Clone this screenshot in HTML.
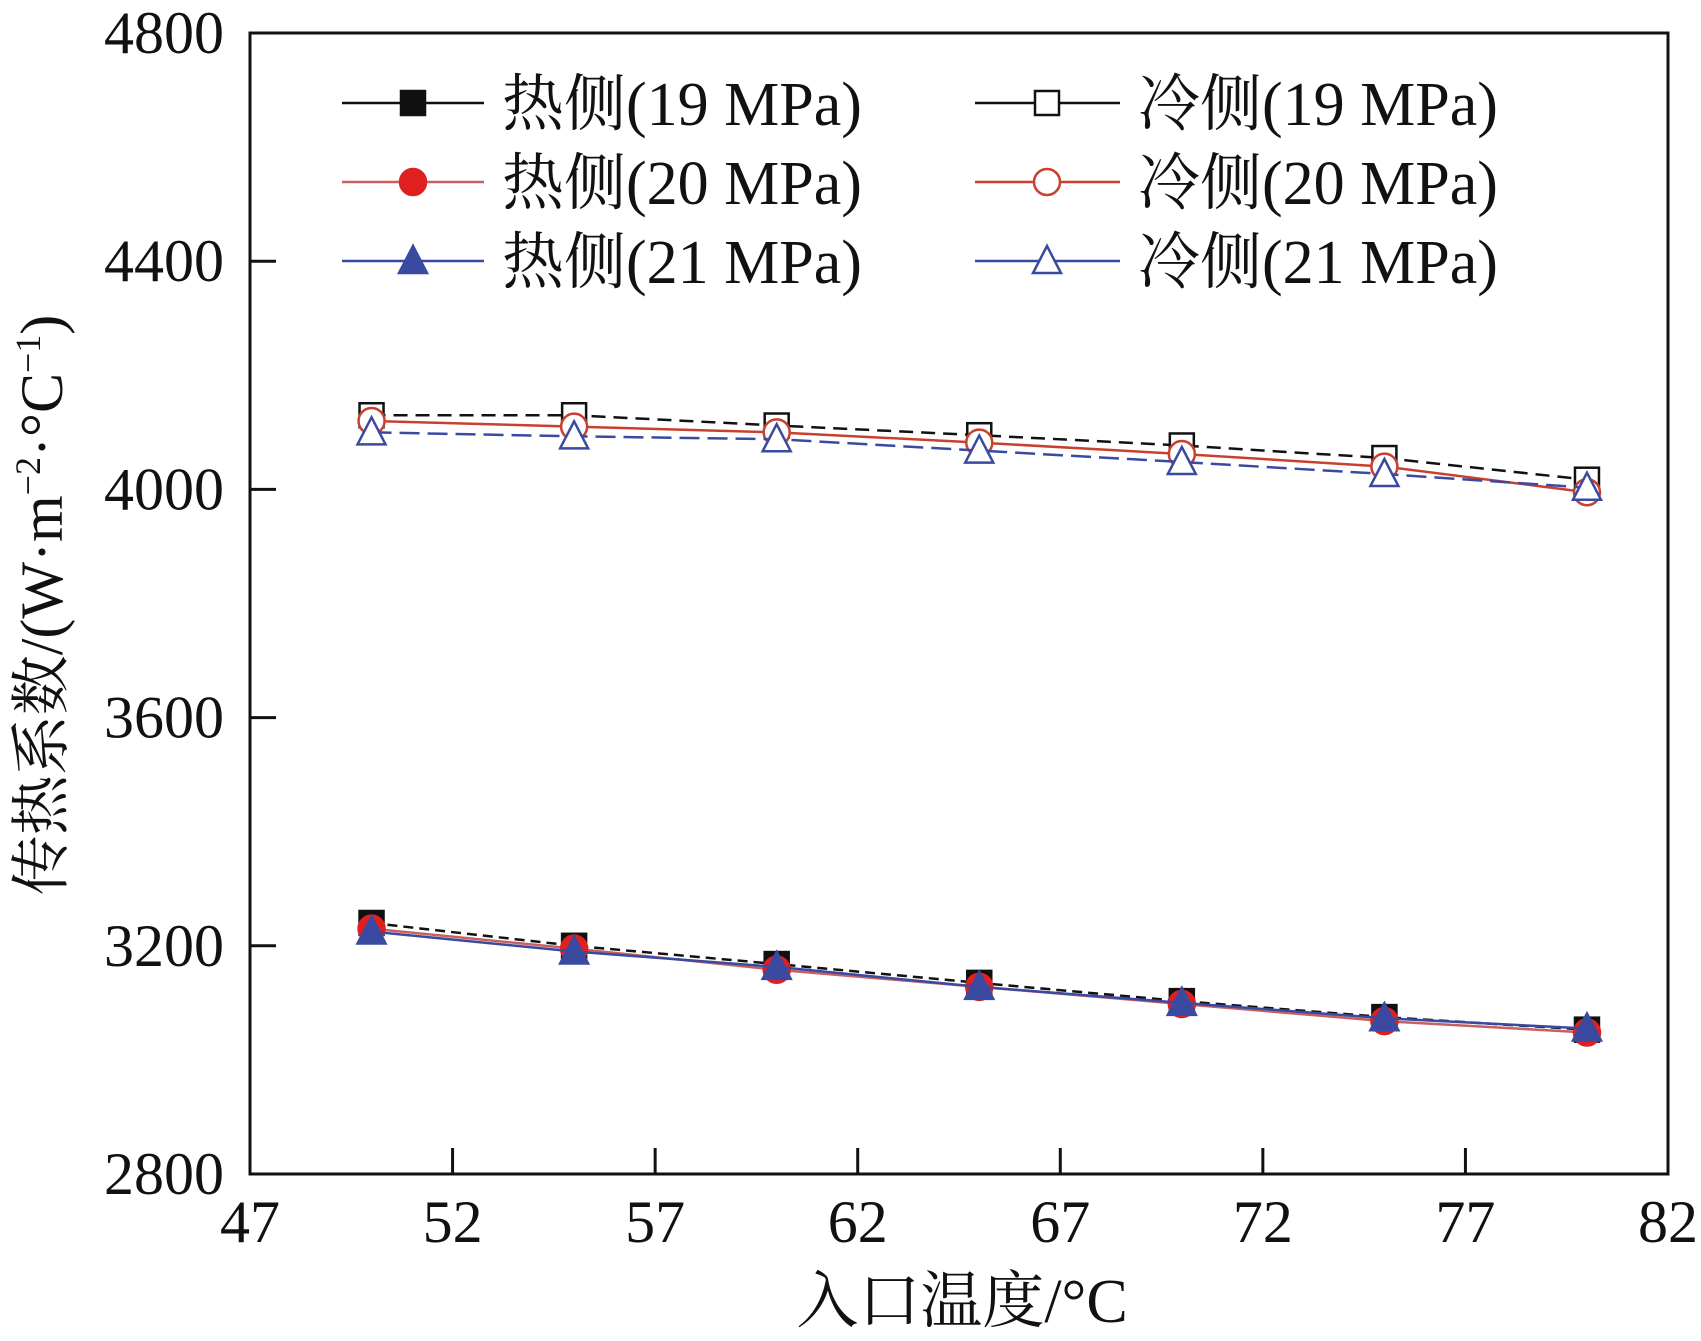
<!DOCTYPE html>
<html><head><meta charset="utf-8"><style>
html,body{margin:0;padding:0;background:#fff}
svg{display:block}
text{font-family:"Liberation Serif","Noto Serif CJK SC",serif;fill:#111}
</style></head><body>
<svg id="chart" width="1701" height="1341" viewBox="0 0 1701 1341" xmlns="http://www.w3.org/2000/svg">
<g id="plot"></g>
</svg>
<script>
const xValues=[50,55,60,65,70,75,80];
const hot19=[3240,3200,3168,3135,3103,3075,3053];
const hot20=[3230,3195,3158,3128,3098,3068,3048];
const hot21=[3225,3190,3163,3128,3100,3073,3055];
const cold19=[4130,4130,4112,4095,4077,4055,4017];
const cold20=[4120,4110,4100,4082,4062,4040,3995];
const cold21=[4100,4093,4088,4068,4048,4027,4003];
const xTicks=[47,52,57,62,67,72,77,82];
const yTicks=[2800,3200,3600,4000,4400,4800];
const L=250,R=1668,T=33,B=1174;
const sx=v=>L+(v-47)/(82-47)*(R-L);
const sy=v=>B-(v-2800)/(4800-2800)*(B-T);
const NS="http://www.w3.org/2000/svg";
const g=document.getElementById('plot');
function mk(tag,at,parent){const e=document.createElementNS(NS,tag);for(const k in at)e.setAttribute(k,at[k]);(parent||g).appendChild(e);return e;}
const frame=mk('rect',{x:L,y:T,width:R-L,height:B-T,fill:'none',stroke:'#111','stroke-width':3});


xTicks.forEach(v=>{
 const t=mk('line',{x1:sx(v),x2:sx(v),y1:B,y2:B-26,stroke:'#111','stroke-width':3});
 
 
 const l=mk('text',{x:sx(v),y:B+68,'text-anchor':'middle','font-size':60});
 l.textContent=v;
 
 
});
yTicks.forEach(v=>{
 const t=mk('line',{x1:L,x2:L+26,y1:sy(v),y2:sy(v),stroke:'#111','stroke-width':3});
 
 
 const l=mk('text',{x:L-26,y:sy(v)+20,'text-anchor':'end','font-size':60});
 l.textContent=v;
 
 
});
const xt=mk('text',{x:962,y:1322,'text-anchor':'middle','font-size':62});
xt.textContent='入口温度/°C';


const yt=mk('text',{x:0,y:0,'text-anchor':'middle','font-size':60,transform:'translate(62,605) rotate(-90)'});
yt.innerHTML='传热系数/(W·m<tspan font-size="36" dy="-22">−2</tspan><tspan dy="22">·°C</tspan><tspan font-size="36" dy="-22">−1</tspan><tspan dy="22">)</tspan>';


function marker(type,fill,stroke,x,y,parent,s){
 s=s||12;let e;
 if(type==='sq')e=mk('rect',{x:x-s,y:y-s,width:2*s,height:2*s,fill:fill,stroke:stroke,'stroke-width':2.5},parent);
 else if(type==='ci')e=mk('circle',{cx:x,cy:y,r:s+1,fill:fill,stroke:stroke,'stroke-width':2.5},parent);
 else e=mk('polygon',{points:`${x},${y-s-3} ${x-s-2},${y+s} ${x+s+2},${y+s}`,fill:fill,stroke:stroke,'stroke-width':2.5},parent);
 return e;
}
const series=[
 {name:'热侧(19 MPa)',d:hot19,m:'sq',fill:'#111',stroke:'#111',line:'#111',dash:'10,6',id:'hot-19'},
 {name:'热侧(20 MPa)',d:hot20,m:'ci',fill:'#e02020',stroke:'#e02020',line:'#c86060',dash:'',id:'hot-20'},
 {name:'热侧(21 MPa)',d:hot21,m:'tr',fill:'#3a4aa0',stroke:'#3a4aa0',line:'#3a4aa0',dash:'',id:'hot-21'},
 {name:'冷侧(19 MPa)',d:cold19,m:'sq',fill:'#fff',stroke:'#111',line:'#111',dash:'14,8',id:'cold-19'},
 {name:'冷侧(20 MPa)',d:cold20,m:'ci',fill:'#fff',stroke:'#c84030',line:'#c84030',dash:'',id:'cold-20'},
 {name:'冷侧(21 MPa)',d:cold21,m:'tr',fill:'#fff',stroke:'#3a4aa0',line:'#3a4aa0',dash:'20,8',id:'cold-21'}
];
series.forEach((s,i)=>{
 const sg=mk('g',{});
 
 
 const pts=s.d.map((v,j)=>sx(xValues[j])+','+sy(v)).join(' ');
 const pl=mk('polyline',{points:pts,fill:'none',stroke:s.line,'stroke-width':2.5,'stroke-dasharray':s.dash},sg);
 
 
 s.d.forEach((v,j)=>{
  const m=marker(s.m,s.fill,s.stroke,sx(xValues[j]),sy(v),sg);
  
  
 });
 const col=i<3?0:1,row=i%3;
 const lx0=col?975:342,lx1=col?1120:484,mx=col?1047:413,tx=col?1138:502,ly=103+row*79;
 const lg=mk('g',{});
 
 
 mk('line',{x1:lx0,x2:lx1,y1:ly,y2:ly,stroke:s.line,'stroke-width':2.5},lg);
 marker(s.m,s.fill,s.stroke,mx,ly,lg,12);
 const lt=mk('text',{x:tx,y:ly+22,'font-size':62},lg);
 lt.textContent=s.name;
 
 
});
</script>
</body></html>
